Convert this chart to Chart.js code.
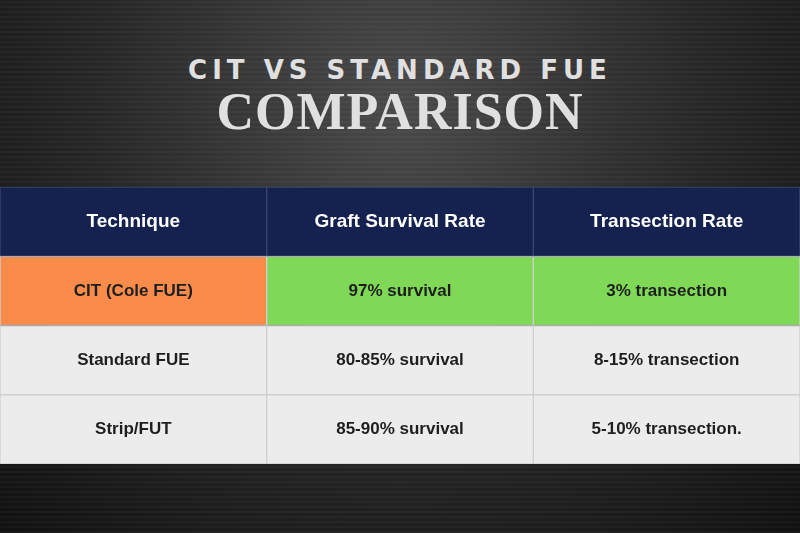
<!DOCTYPE html>
<html><head><meta charset="utf-8">
<script src="https://cdn.jsdelivr.net/npm/chart.js@4"></script>
<style>
body{margin:0;width:800px;height:533px;overflow:hidden;font-family:"Liberation Sans",sans-serif;
background:repeating-linear-gradient(0deg,rgba(255,255,255,0.03) 0 2px,rgba(0,0,0,0) 2px 5px),
radial-gradient(ellipse at 50% 20%,#4a4a4a 0%,#262626 55%,#111 100%);position:relative}
#t1{position:absolute;top:55px;width:100%;text-align:center;color:#e0e0e0;font:bold 26px "DejaVu Sans",sans-serif;letter-spacing:5px}
#t2{position:absolute;top:82px;width:100%;text-align:center;color:#e0e0e0;font:bold 52px "Liberation Serif",serif;letter-spacing:1px}
#wrap{position:absolute;left:0;top:187px;width:800px;height:277px}
</style></head><body>
<div id="t1">CIT VS STANDARD FUE</div>
<div id="t2">COMPARISON</div>
<div id="wrap"><canvas id="c"></canvas></div>
<script>
// Données du tableau
const colonnes = ['Technique', 'Graft Survival Rate', 'Transection Rate'];
const techniques = ['CIT (Cole FUE)', 'Standard FUE', 'Strip/FUT'];
const survie = ['97% survival', '80-85% survival', '85-90% survival'];
const transection = ['3% transection', '8-15% transection', '5-10% transection.'];
const lignes = [colonnes, ...techniques.map((t, i) => [t, survie[i], transection[i]])];

const couleurs = [
  ['#15224f', '#15224f', '#15224f'],
  ['#f98c4a', '#7fd957', '#7fd957'],
  ['#ececec', '#ececec', '#ececec'],
  ['#ececec', '#ececec', '#ececec']
];

const datasets = lignes.map((l, r) => ({
  data: colonnes.map(() => [r, r + 1]),
  backgroundColor: couleurs[r],
  borderColor: r === 0 ? '#3a4670' : '#cfcfcf',
  borderWidth: 1,
  borderSkipped: false,
  grouped: false,
  barPercentage: 1,
  categoryPercentage: 1
}));

// Texte des cellules
const texteCellules = {
  id: 'texte',
  afterDatasetsDraw(chart) {
    const ctx = chart.ctx;
    const x = chart.scales.x, y = chart.scales.y;
    ctx.save();
    ctx.textAlign = 'center';
    ctx.textBaseline = 'middle';
    lignes.forEach((l, r) => {
      l.forEach((txt, c) => {
        if (r === 0) {
          ctx.fillStyle = '#ffffff';
          ctx.font = 'bold 19px "Liberation Sans Narrow","Liberation Sans",sans-serif';
        } else {
          ctx.fillStyle = '#1e1e1e';
          ctx.font = 'bold 17px "Liberation Sans",sans-serif';
        }
        ctx.fillText(txt, x.getPixelForValue(c), y.getPixelForValue(r + 0.5));
      });
    });
    ctx.restore();
  }
};

new Chart(document.getElementById('c'), {
  type: 'bar',
  data: { labels: colonnes, datasets },
  options: {
    responsive: true,
    maintainAspectRatio: false,
    animation: false,
    layout: { padding: 0 },
    plugins: { legend: { display: false }, tooltip: { enabled: false } },
    scales: {
      x: { display: false },
      y: { display: false, min: 0, max: 4, reverse: true }
    }
  },
  plugins: [texteCellules]
});
</script>
</body></html>
